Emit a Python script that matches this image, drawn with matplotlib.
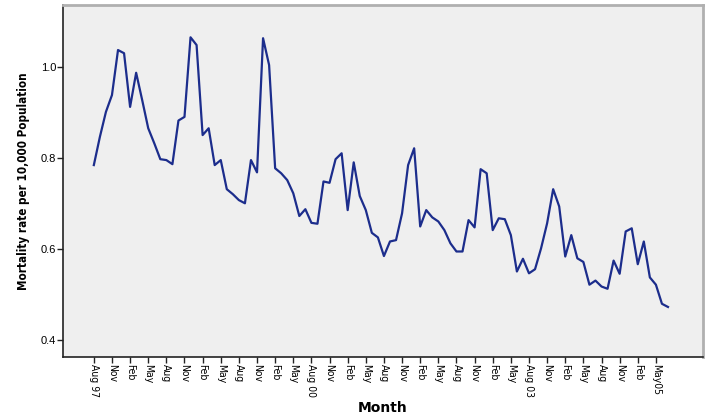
import numpy as np
import matplotlib
matplotlib.use("Agg")
import matplotlib.pyplot as plt
from matplotlib import font_manager

# monthly mortality rate, Aug 1997 .. Jul 2005
rate = [0.785, 0.847, 0.902, 0.939, 1.038, 1.031, 0.913, 0.988, 0.928, 0.866,
        0.833, 0.798, 0.796, 0.787, 0.883, 0.891, 1.066, 1.049, 0.851, 0.866,
        0.785, 0.796, 0.732, 0.721, 0.708, 0.701, 0.796, 0.769, 1.064, 1.005,
        0.778, 0.767, 0.752, 0.723, 0.673, 0.688, 0.658, 0.656, 0.749, 0.746,
        0.798, 0.811, 0.686, 0.791, 0.717, 0.686, 0.636, 0.626, 0.585, 0.617,
        0.620, 0.679, 0.785, 0.822, 0.650, 0.686, 0.670, 0.661, 0.642, 0.613,
        0.595, 0.595, 0.664, 0.648, 0.776, 0.767, 0.642, 0.668, 0.666, 0.631,
        0.551, 0.579, 0.547, 0.556, 0.602, 0.657, 0.732, 0.694, 0.584, 0.631,
        0.580, 0.572, 0.522, 0.531, 0.518, 0.513, 0.575, 0.546, 0.639, 0.646,
        0.567, 0.617, 0.538, 0.522, 0.480, 0.473]

tick_labels = ["Aug 97", "Nov", "Feb", "May", "Aug", "Nov", "Feb", "May",
               "Aug", "Nov", "Feb", "May", "Aug 00", "Nov", "Feb", "May",
               "Aug", "Nov", "Feb", "May", "Aug", "Nov", "Feb", "May",
               "Aug 03", "Nov", "Feb", "May", "Aug", "Nov", "Feb", "May05"]
y_ticks = [0.4, 0.6, 0.8, 1.0]

months = np.arange(len(rate))
tick_pos = np.arange(len(tick_labels)) * 3

# a narrow face if one is there
names = {f.name for f in font_manager.fontManager.ttflist}
if "Liberation Sans Narrow" in names:
    narrow = dict(family="Liberation Sans Narrow")
else:
    narrow = dict(family="DejaVu Sans", fontstretch="condensed")

fig = plt.figure(figsize=(7.08, 4.19), dpi=100)
fig.patch.set_facecolor("white")
ax = fig.add_axes([0.089, 0.148, 0.904, 0.840])
ax.set_facecolor("#efefef")

ax.plot(months, rate, color="#1c2d8c", lw=1.6)

ax.set_xlim(-5.1, 100.8)
ax.set_ylim(0.363, 1.137)

ax.set_xticks(tick_pos)
ax.set_xticklabels(tick_labels, rotation=270, ha="center", va="top",
                   fontsize=7.5, **narrow)
ax.set_yticks(y_ticks)
ax.set_yticklabels([f"{v:.1f}" for v in y_ticks],
                   family=["Liberation Sans", "DejaVu Sans"], fontsize=8)
ax.tick_params(axis="both", length=4, width=1, color="#222222", pad=1)

for s in ["left", "bottom"]:
    ax.spines[s].set_color("#222222")
    ax.spines[s].set_linewidth(1.2)
for s in ["top", "right"]:
    ax.spines[s].set_color("#b0b0b0")
    ax.spines[s].set_linewidth(2)

ylab = ax.set_ylabel("Mortality rate per 10,000 Population", fontsize=10,
                     fontweight="bold", labelpad=8, **narrow)
fig.text(0.541, 0.026, "Month", ha="center", va="center",
         family=["DejaVu Sans"], fontsize=10, fontweight="bold")

fig.canvas.draw()
# fit the y label to the length seen in the chart (about 216 px)
h = ylab.get_window_extent().height
if h > 230:
    ylab.set_fontsize(10 * 216 / h)

fig.savefig("out.png", dpi=100)
